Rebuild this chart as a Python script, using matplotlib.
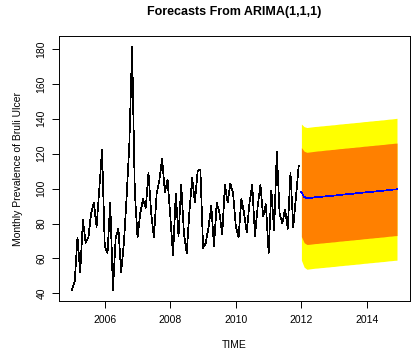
import matplotlib
matplotlib.use("Agg")
import matplotlib.pyplot as plt
import numpy as np

# ---- data -----------------------------------------------------------
start_year = 2005.0
hist_values = [
    42, 47, 72, 52, 82, 69, 72, 86, 92, 78, 100, 122,      # 2005
    67, 63, 92, 42, 72, 77, 52, 69, 95, 126, 181, 98,      # 2006
    72, 86, 94, 89, 109, 86, 72, 97, 105, 117, 98, 105,    # 2007
    84, 62, 97, 73, 102, 74, 63, 87, 106, 92, 110, 111,    # 2008
    66, 69, 78, 90, 67, 92, 86, 74, 102, 92, 103, 97,      # 2009
    78, 72, 94, 86, 75, 92, 102, 73, 90, 102, 84, 91,      # 2010
    63, 99, 76, 121, 86, 80, 88, 77, 109, 78, 95, 113,     # 2011
]
fc_start = 2012.0
fc_mean = [98.0, 95.2, 94.5, 94.6, 94.8, 95.0, 95.1, 95.3, 95.4, 95.6, 95.7, 95.9,
           96.0, 96.2, 96.4, 96.5, 96.7, 96.8, 97.0, 97.1, 97.3, 97.4, 97.6, 97.8,
           97.9, 98.1, 98.2, 98.4, 98.5, 98.7, 98.8, 99.0, 99.2, 99.3, 99.5, 99.6]
fc_lo80 = [72.5, 69.0, 68.0, 68.1, 68.3, 68.5, 68.6, 68.8, 68.9, 69.1, 69.2, 69.4,
           69.5, 69.7, 69.9, 70.0, 70.2, 70.3, 70.5, 70.6, 70.8, 70.9, 71.1, 71.3,
           71.4, 71.6, 71.7, 71.9, 72.0, 72.2, 72.3, 72.5, 72.7, 72.8, 73.0, 73.1]
fc_hi80 = [123.5, 121.4, 120.8, 121.0, 121.2, 121.4, 121.6, 121.7, 121.9, 122.1, 122.2, 122.4,
           122.5, 122.7, 122.9, 123.0, 123.2, 123.3, 123.5, 123.6, 123.8, 123.9, 124.1, 124.3,
           124.4, 124.6, 124.7, 124.9, 125.0, 125.2, 125.3, 125.5, 125.7, 125.8, 126.0, 126.1]
fc_lo95 = [59.0, 55.0, 53.8, 54.0, 54.2, 54.4, 54.5, 54.7, 54.8, 55.0, 55.1, 55.3,
           55.4, 55.6, 55.8, 55.9, 56.1, 56.2, 56.4, 56.5, 56.7, 56.8, 57.0, 57.2,
           57.3, 57.5, 57.6, 57.8, 57.9, 58.1, 58.2, 58.4, 58.6, 58.7, 58.9, 59.0]
fc_hi95 = [137.0, 135.5, 135.0, 135.2, 135.4, 135.6, 135.7, 135.9, 136.0, 136.2, 136.3, 136.5,
           136.6, 136.8, 137.0, 137.1, 137.3, 137.4, 137.6, 137.7, 137.9, 138.0, 138.2, 138.4,
           138.5, 138.7, 138.8, 139.0, 139.1, 139.3, 139.4, 139.6, 139.8, 139.9, 140.1, 140.3]
x_ticks = [2006, 2008, 2010, 2012, 2014]
y_ticks = [40, 60, 80, 100, 120, 140, 160, 180]
title = "Forecasts From ARIMA(1,1,1)"
x_label = "TIME"
y_label = "Monthly Prevalence of Bruli Ulcer"

# ---- plot -----------------------------------------------------------
plt.rcParams['font.family'] = ['Liberation Sans', 'DejaVu Sans']

fig = plt.figure(figsize=(4.2, 3.52), dpi=100)
ax = fig.add_axes([59/420, 1 - 301/352, (410 - 59)/420, (301 - 36)/352])

t_hist = start_year + np.arange(len(hist_values)) / 12.0
t_fc = fc_start + np.arange(len(fc_mean)) / 12.0

ax.fill_between(t_fc, fc_lo95, fc_hi95, color='#FFFF00', linewidth=0, antialiased=False)
ax.fill_between(t_fc, fc_lo80, fc_hi80, color='#FF8000', linewidth=0, antialiased=False)
ax.plot(t_hist, hist_values, color='black', lw=0.5, antialiased=False)
ax.plot(t_fc, fc_mean, color='#0000FF', lw=0.5, antialiased=False)

span = t_fc[-1] - t_hist[0]
ax.set_xlim(t_hist[0] - 0.04 * span, t_fc[-1] + 0.04 * span)
ax.set_ylim(35.6, 187.45)

ax.set_xticks(x_ticks)
ax.set_xticklabels([str(v) for v in x_ticks])
ax.set_yticks(y_ticks)
ax.set_yticklabels([str(v) for v in y_ticks], rotation=90, va='center')
ax.tick_params(direction='out', length=5, width=0.7, labelsize=7.5, pad=5, colors='black')
ax.tick_params(axis='y', pad=4)
for s in ax.spines.values():
    s.set_linewidth(0.7)

fig.text(0.5 * (59 + 410) / 420, 1 - 12 / 352, title, ha='center', va='center',
         fontsize=9, fontweight='bold')
fig.text(0.5 * (59 + 410) / 420, 1 - 345.5 / 352, x_label, ha='center', va='center',
         fontsize=7.5)
fig.text(18 / 420, 1 - 168.5 / 352, y_label, ha='center', va='center',
         fontsize=7.5, rotation=90)

fig.savefig("out.png", dpi=100)
